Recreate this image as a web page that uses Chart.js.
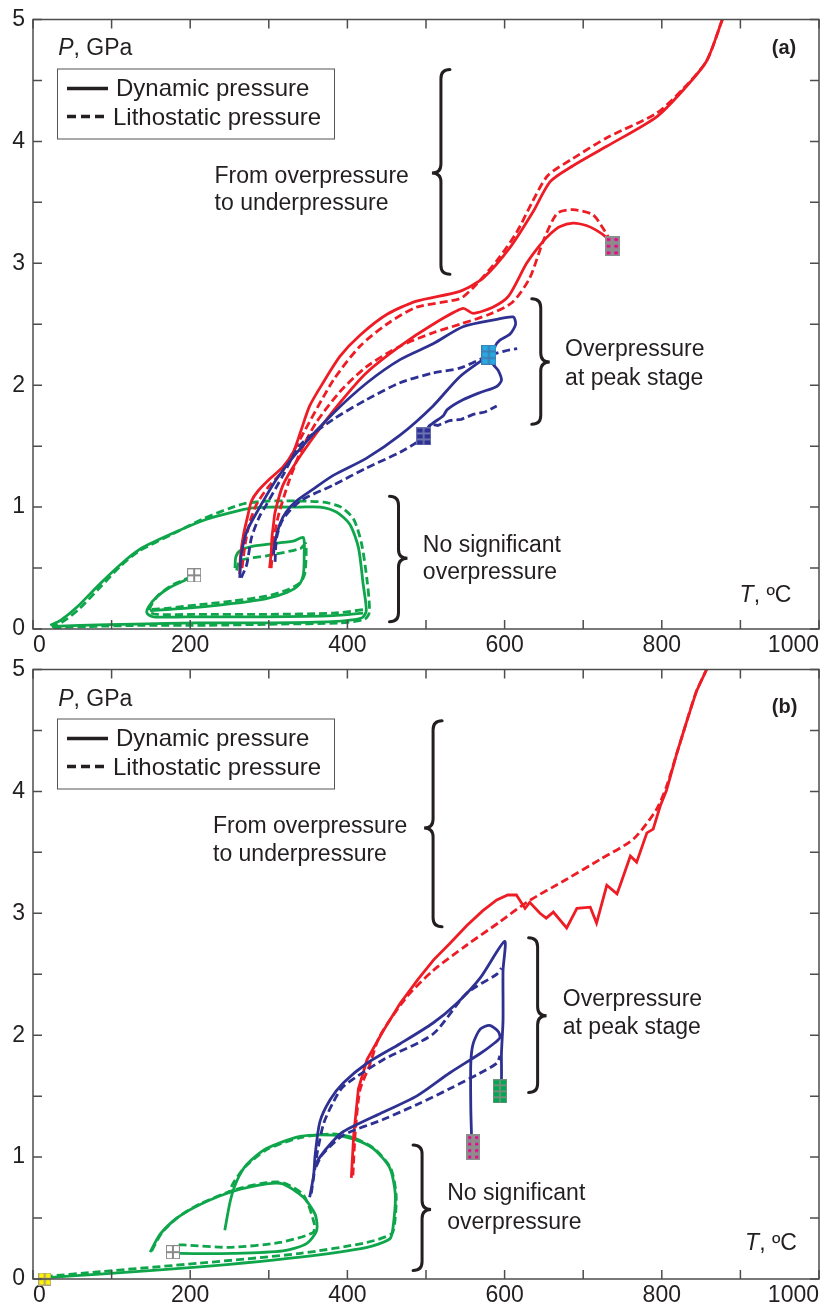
<!DOCTYPE html>
<html>
<head>
<meta charset="utf-8">
<script src="https://cdn.jsdelivr.net/npm/chart.js@4.4.1/dist/chart.umd.min.js"></script>
<style>
  body { margin: 0; background: #fff; width: 834px; height: 1306px; position: relative; overflow: hidden; }
  canvas { position: absolute; left: 0; }
  #chart-a { top: 0; }
  #chart-b { top: 650px; }
</style>
</head>
<body>
<canvas id="chart-a" width="834" height="656"></canvas>
<canvas id="chart-b" width="834" height="656"></canvas>
<script>
// Axis ticks
const xTickValues = [0, 200, 400, 600, 800, 1000];
const yTickValues = [0, 1, 2, 3, 4, 5];
const xTickMarks = [0, 100, 200, 300, 400, 500, 600, 700, 800, 900, 1000];
const yTickMarks = [0, 0.5, 1, 1.5, 2, 2.5, 3, 3.5, 4, 4.5, 5];

// ---- Panel (a) ----
const aGreenOuterSolidT = [24, 60, 130, 210, 300, 380, 418, 424, 420, 414, 403, 386, 365, 340, 300, 275, 255, 221, 183, 140, 115, 85, 56, 35, 22];
const aGreenOuterSolidP = [0.02, 0.03, 0.04, 0.05, 0.05, 0.06, 0.09, 0.15, 0.37, 0.67, 0.86, 0.96, 1.00, 1.00, 1.00, 0.99, 0.96, 0.90, 0.80, 0.67, 0.55, 0.37, 0.18, 0.07, 0.03];
const aGreenOuterDashT = [26, 70, 140, 220, 310, 390, 422, 428, 425, 418, 408, 392, 370, 340, 300, 270, 250, 215, 178, 135, 112, 85, 58, 38, 25];
const aGreenOuterDashP = [0.01, 0.02, 0.03, 0.03, 0.04, 0.05, 0.08, 0.14, 0.40, 0.70, 0.90, 1.00, 1.04, 1.05, 1.05, 1.03, 0.99, 0.90, 0.78, 0.64, 0.52, 0.34, 0.16, 0.06, 0.02];
const aGreenReturnSolidT = [200, 174, 157, 147, 145, 153, 212, 297, 382, 420];
const aGreenReturnSolidP = [0.42, 0.34, 0.26, 0.18, 0.13, 0.10, 0.10, 0.10, 0.11, 0.13];
const aGreenReturnDashT = [202, 177, 160, 150, 148, 158, 212, 297, 382, 422];
const aGreenReturnDashP = [0.43, 0.36, 0.28, 0.19, 0.14, 0.12, 0.12, 0.12, 0.13, 0.16];
const aGreenInnerSolidT = [257, 258, 263, 280, 331, 344, 345, 344, 338, 323, 297, 255, 212, 170, 149];
const aGreenInnerSolidP = [0.50, 0.59, 0.64, 0.68, 0.72, 0.75, 0.60, 0.45, 0.36, 0.30, 0.25, 0.21, 0.18, 0.16, 0.15];
const aGreenInnerDashT = [259, 263, 297, 340, 347, 346, 340, 323, 297, 255, 212, 170, 150];
const aGreenInnerDashP = [0.48, 0.56, 0.60, 0.66, 0.70, 0.46, 0.38, 0.32, 0.27, 0.23, 0.20, 0.17, 0.16];

const aBlueUpperSolidT = [263, 265, 272, 285, 310, 340, 382, 425, 467, 509, 547, 590, 611, 614, 607, 594, 588, 585, 592, 596, 590, 569, 547, 527, 522, 505, 499];
const aBlueUpperSolidP = [0.42, 0.61, 0.80, 0.96, 1.23, 1.48, 1.77, 2.02, 2.21, 2.34, 2.48, 2.54, 2.56, 2.50, 2.42, 2.37, 2.32, 2.18, 2.12, 2.04, 1.99, 1.94, 1.88, 1.80, 1.75, 1.67, 1.62];
const aBlueUpperDashT = [265, 272, 278, 288, 297, 318, 340, 382, 424, 467, 509, 543, 579, 600, 616];
const aBlueUpperDashP = [0.42, 0.53, 0.75, 0.92, 1.02, 1.26, 1.51, 1.72, 1.88, 2.02, 2.10, 2.14, 2.24, 2.28, 2.30];
const aBlueLowerSolidT = [306, 308, 314, 322, 335, 357, 382, 424, 467, 509, 543, 579];
const aBlueLowerSolidP = [0.61, 0.72, 0.86, 0.96, 1.05, 1.15, 1.26, 1.40, 1.59, 1.83, 2.07, 2.24];
const aBlueLowerDashT = [308, 310, 318, 340, 382, 424, 467, 496];
const aBlueLowerDashP = [0.55, 0.75, 0.90, 1.05, 1.18, 1.32, 1.45, 1.56];
const aBlueTailT = [499, 506, 515, 530, 545, 560, 575, 590];
const aBlueTailP = [1.62, 1.68, 1.67, 1.71, 1.72, 1.76, 1.78, 1.83];

const aRedUpperSolidT = [263, 264, 268, 274, 278, 286, 301, 318, 331, 340, 352, 369, 391, 416, 450, 488, 543, 573, 607, 636, 658, 687, 730, 793, 827, 857, 877];
const aRedUpperSolidP = [0.45, 0.60, 0.78, 0.95, 1.05, 1.13, 1.23, 1.33, 1.45, 1.61, 1.83, 2.02, 2.24, 2.41, 2.58, 2.69, 2.77, 2.88, 3.13, 3.42, 3.67, 3.80, 3.96, 4.20, 4.42, 4.66, 5.00];
const aRedUpperDashT = [266, 270, 276, 285, 300, 318, 340, 382, 416, 450, 488, 543, 560, 590, 615, 635, 655, 687, 730, 793, 827, 857, 877];
const aRedUpperDashP = [0.50, 0.70, 0.88, 1.03, 1.17, 1.30, 1.56, 2.04, 2.32, 2.50, 2.64, 2.71, 2.80, 3.02, 3.25, 3.50, 3.72, 3.86, 4.03, 4.23, 4.43, 4.66, 5.00];
const aRedLowerSolidT = [301, 303, 304, 306, 308, 318, 335, 361, 391, 424, 467, 509, 547, 560, 585, 605, 628, 645, 658, 670, 687, 704, 717, 730, 737];
const aRedLowerSolidP = [0.50, 0.62, 0.75, 0.86, 0.96, 1.18, 1.37, 1.61, 1.86, 2.10, 2.32, 2.50, 2.63, 2.59, 2.64, 2.73, 3.00, 3.15, 3.24, 3.30, 3.33, 3.31, 3.27, 3.21, 3.15];
const aRedLowerDashT = [303, 305, 308, 313, 325, 340, 361, 391, 424, 467, 509, 543, 580, 610, 632, 649, 667, 687, 712, 725, 735];
const aRedLowerDashP = [0.50, 0.65, 0.80, 0.95, 1.20, 1.45, 1.70, 1.95, 2.15, 2.32, 2.43, 2.50, 2.58, 2.68, 2.88, 3.18, 3.41, 3.44, 3.40, 3.29, 3.18];

const aMarkerT = [205, 497, 580, 737];
const aMarkerP = [0.44, 1.58, 2.25, 3.14];
const aMarkerKind = ["grey", "navy", "cyan", "magentaSmall"];

// ---- Panel (b) ----
const bGreenOuterSolidT = [15, 85, 212, 340, 425, 454, 458, 461, 454, 433, 407, 382, 340, 297, 272, 259, 251, 244];
const bGreenOuterSolidP = [0.01, 0.04, 0.10, 0.18, 0.26, 0.33, 0.42, 0.69, 0.91, 1.07, 1.15, 1.18, 1.17, 1.07, 0.94, 0.80, 0.64, 0.40];
const bGreenOuterDashT = [15, 85, 212, 340, 425, 456, 460, 462, 455, 434, 407, 382, 340, 297, 270, 256, 248];
const bGreenOuterDashP = [0.02, 0.06, 0.13, 0.21, 0.30, 0.37, 0.45, 0.69, 0.91, 1.07, 1.16, 1.19, 1.16, 1.06, 0.92, 0.80, 0.70];
const bGreenInnerSolidT = [149, 162, 183, 212, 255, 297, 318, 344, 359, 361, 348, 318, 255, 187, 178];
const bGreenInnerSolidP = [0.22, 0.37, 0.50, 0.61, 0.72, 0.78, 0.78, 0.67, 0.53, 0.40, 0.29, 0.23, 0.21, 0.21, 0.22];
const bGreenInnerDashT = [151, 164, 185, 214, 256, 297, 318, 344, 358, 356, 314, 251, 191, 180];
const bGreenInnerDashP = [0.23, 0.38, 0.51, 0.62, 0.73, 0.79, 0.79, 0.69, 0.45, 0.38, 0.30, 0.26, 0.28, 0.28];

const bBlueUpperSolidT = [352, 357, 359, 365, 378, 395, 425, 467, 509, 539, 569, 600, 598, 598, 596, 596, 594];
const bBlueUpperSolidP = [0.67, 0.85, 1.02, 1.29, 1.47, 1.61, 1.77, 1.93, 2.10, 2.26, 2.47, 2.77, 2.53, 2.12, 1.85, 1.64, 1.55];
const bBlueUpperDashT = [354, 358, 362, 370, 382, 395, 446, 509, 551, 590, 596];
const bBlueUpperDashP = [0.70, 0.88, 1.05, 1.28, 1.45, 1.58, 1.80, 2.01, 2.34, 2.50, 2.55];
const bBlueLowerSolidT = [358, 365, 380, 395, 446, 488, 530, 569, 586, 594, 592, 581, 569, 560, 557, 557, 558];
const bBlueLowerSolidP = [0.92, 1.00, 1.12, 1.21, 1.37, 1.50, 1.69, 1.85, 1.93, 1.98, 2.03, 2.08, 2.05, 1.93, 1.77, 1.40, 1.16];
const bBlueLowerDashT = [360, 368, 395, 446, 488, 530, 569, 590, 594];
const bBlueLowerDashP = [0.92, 1.02, 1.18, 1.31, 1.43, 1.56, 1.69, 1.77, 1.83];

const bRedSolidT = [405, 408, 414, 425, 446, 467, 490, 510, 530, 552, 572, 590, 604, 615, 626, 632, 645, 653, 662, 679, 692, 709, 717, 730, 743, 747, 760, 768, 781, 789, 798, 806, 819, 832, 844, 857];
const bRedSolidP = [0.83, 1.18, 1.56, 1.80, 2.04, 2.26, 2.46, 2.62, 2.75, 2.90, 3.02, 3.11, 3.15, 3.15, 3.04, 3.09, 3.00, 2.96, 3.01, 2.88, 3.04, 3.05, 2.92, 3.23, 3.16, 3.23, 3.47, 3.42, 3.66, 3.69, 3.88, 4.01, 4.31, 4.58, 4.82, 5.00];
const bRedDashT = [407, 410, 416, 428, 441, 475, 509, 552, 594, 628, 679, 721, 764, 793, 806, 819, 832, 844, 857];
const bRedDashP = [0.85, 1.20, 1.55, 1.75, 1.99, 2.31, 2.53, 2.74, 2.93, 3.09, 3.28, 3.44, 3.61, 3.85, 4.04, 4.31, 4.58, 4.82, 5.00];

const bMarkerT = [15, 178, 560, 594];
const bMarkerP = [0.00, 0.22, 1.08, 1.54];
const bMarkerKind = ["yellow", "grey", "magentaTall", "greenTall"];

const FONT = '"Liberation Sans", Arial, sans-serif';
const INK = "#231f20";
const RED = "#ee1c25";
const BLUE = "#2e3192";
const GREEN = "#0ea54b";

Chart.defaults.font.family = FONT;

/**
 * Small gridded square used for the start/end markers
 */
function makeMarker(w, h, cols, rows, cell, line, inset) {
  const c = document.createElement("canvas");
  c.width = w;
  c.height = h;
  const g = c.getContext("2d");
  g.fillStyle = line;
  g.fillRect(0, 0, w, h);
  g.fillStyle = cell;
  const cw = w / cols;
  const ch = h / rows;
  for (let i = 0; i < cols; i++) {
    for (let j = 0; j < rows; j++) {
      g.fillRect(i * cw + inset, j * ch + inset, cw - 2 * inset, ch - 2 * inset);
    }
  }
  return c;
}

const markerImages = {
  grey: makeMarker(14, 14, 2, 2, "#ffffff", "#8a8a8a", 1),
  navy: makeMarker(15, 18, 2, 3, "#2e3192", "#6d72b0", 1),
  cyan: makeMarker(15, 20, 2, 3, "#27aae1", "#3d7fb5", 1),
  magentaSmall: makeMarker(15, 20, 2, 3, "#ec008c", "#8d8d8d", 2),
  yellow: makeMarker(13, 13, 2, 2, "#fff200", "#a7a37e", 1),
  magentaTall: makeMarker(14, 26, 2, 4, "#ec008c", "#8d8d8d", 2),
  greenTall: makeMarker(14, 24, 2, 4, "#00a651", "#6f8f7a", 1),
};

function pts(T, P) {
  return T.map((t, i) => ({ x: t, y: P[i] }));
}

function path(T, P, color, dashed, order, tension) {
  return {
    data: pts(T, P),
    showLine: true,
    borderColor: color,
    borderWidth: 2.8,
    borderDash: dashed ? [8, 4] : [],
    pointRadius: 0,
    tension: tension === undefined ? 0.25 : tension,
    order: order,
  };
}

function markers(T, P, kinds) {
  return {
    data: pts(T, P),
    showLine: false,
    pointStyle: kinds.map((k) => markerImages[k]),
    pointRadius: 8,
    clip: false,
    order: 0,
  };
}

// Draw text pieces in a row, some of them italic
function drawRich(ctx, x, y, parts, size) {
  let cx = x;
  parts.forEach((p) => {
    ctx.font = (p.italic ? "italic " : "") + size + "px " + FONT;
    ctx.fillText(p.t, cx, y);
    cx += ctx.measureText(p.t).width;
  });
}

// Curly brace: stem at x from y0 to y1, tip at ym pointing dir (+1 right, -1 left)
function drawBrace(ctx, x, y0, y1, ym, dir) {
  const w = 9;
  ctx.beginPath();
  ctx.moveTo(x - dir * w, y0);
  ctx.quadraticCurveTo(x, y0, x, y0 + w);
  ctx.lineTo(x, ym - w);
  ctx.quadraticCurveTo(x, ym, x + dir * w, ym);
  ctx.quadraticCurveTo(x, ym, x, ym + w);
  ctx.lineTo(x, y1 - w);
  ctx.quadraticCurveTo(x, y1, x - dir * w, y1);
  ctx.stroke();
}

/**
 * Frame, inward ticks, legend box, braces and notes
 */
function decorPlugin(cfg) {
  return {
    id: "decor",
    afterDraw(chart) {
      const { ctx, chartArea: a } = chart;
      const sx = chart.scales.x;
      const sy = chart.scales.y;
      ctx.save();

      // Frame and inward tick marks
      ctx.strokeStyle = "#4d4d4d";
      ctx.lineWidth = 1.5;
      ctx.strokeRect(a.left, a.top, a.right - a.left, a.bottom - a.top);
      ctx.beginPath();
      xTickMarks.forEach((v) => {
        const px = sx.getPixelForValue(v);
        ctx.moveTo(px, a.bottom);
        ctx.lineTo(px, a.bottom - 9);
        ctx.moveTo(px, a.top);
        ctx.lineTo(px, a.top + 9);
      });
      yTickMarks.forEach((v) => {
        const py = sy.getPixelForValue(v);
        ctx.moveTo(a.left, py);
        ctx.lineTo(a.left + 9, py);
        ctx.moveTo(a.right, py);
        ctx.lineTo(a.right - 9, py);
      });
      ctx.stroke();

      // Legend box
      ctx.strokeStyle = "#555";
      ctx.lineWidth = 1;
      ctx.strokeRect(a.left + 24.5, a.top + 49.5, 277, 70);
      ctx.strokeStyle = INK;
      ctx.lineWidth = 3.5;
      ctx.beginPath();
      ctx.moveTo(a.left + 34, a.top + 69);
      ctx.lineTo(a.left + 75, a.top + 69);
      ctx.stroke();
      ctx.setLineDash([9, 5]);
      ctx.beginPath();
      ctx.moveTo(a.left + 34, a.top + 97);
      ctx.lineTo(a.left + 74, a.top + 97);
      ctx.stroke();
      ctx.setLineDash([]);
      ctx.fillStyle = INK;
      ctx.textAlign = "left";
      ctx.textBaseline = "alphabetic";
      ctx.font = "24px " + FONT;
      ctx.fillText("Dynamic pressure", a.left + 83, a.top + 76);
      ctx.fillText("Lithostatic pressure", a.left + 80, a.top + 105);

      // Axis names
      drawRich(ctx, sx.getPixelForValue(cfg.pLabel[0]), sy.getPixelForValue(cfg.pLabel[1]),
        [{ t: "P", italic: true }, { t: ", GPa" }], 23);
      drawRich(ctx, sx.getPixelForValue(cfg.tLabel[0]), sy.getPixelForValue(cfg.tLabel[1]),
        [{ t: "T", italic: true }, { t: ", ºC" }], 23);

      // Panel tag
      ctx.font = "bold 20px " + FONT;
      ctx.fillText(cfg.tag, sx.getPixelForValue(cfg.tagPos[0]), sy.getPixelForValue(cfg.tagPos[1]));

      // Notes
      ctx.font = "23px " + FONT;
      cfg.notes.forEach((n) => {
        ctx.fillText(n.s, sx.getPixelForValue(n.T), sy.getPixelForValue(n.P));
      });

      // Braces
      ctx.strokeStyle = INK;
      ctx.lineWidth = 3;
      ctx.lineCap = "round";
      cfg.braces.forEach((b) => {
        drawBrace(ctx, sx.getPixelForValue(b.T), sy.getPixelForValue(b.p0),
          sy.getPixelForValue(b.p1), sy.getPixelForValue(b.pm), b.dir);
      });
      ctx.restore();
    },
  };
}

function makeChart(id, datasets, topPad, cfg) {
  return new Chart(document.getElementById(id), {
    type: "scatter",
    data: { datasets: datasets },
    options: {
      responsive: false,
      animation: false,
      events: [],
      layout: { padding: { left: 0, top: topPad, right: 15, bottom: 0 } },
      plugins: { legend: { display: false }, tooltip: { enabled: false } },
      scales: {
        x: {
          type: "linear",
          min: 0,
          max: 1000,
          grid: { display: false, drawTicks: false },
          border: { display: false },
          ticks: {
            align: "inner",
            padding: 5,
            color: INK,
            font: { size: 23, lineHeight: 1 },
            callback: (v) => String(v),
          },
          afterBuildTicks: (s) => { s.ticks = xTickValues.map((v) => ({ value: v })); },
          afterFit: (s) => { s.height = 27; },
        },
        y: {
          type: "linear",
          min: 0,
          max: 5,
          grid: { display: false, drawTicks: false },
          border: { display: false },
          ticks: {
            padding: 8,
            color: INK,
            font: { size: 23, lineHeight: 1 },
            callback: (v) => String(v),
          },
          afterBuildTicks: (s) => { s.ticks = yTickValues.map((v) => ({ value: v })); },
          afterFit: (s) => { s.width = 33; },
        },
      },
    },
    plugins: [decorPlugin(cfg)],
  });
}

makeChart("chart-a", [
  markers(aMarkerT, aMarkerP, aMarkerKind),
  path(aBlueUpperSolidT, aBlueUpperSolidP, BLUE, false, 1),
  path(aBlueUpperDashT, aBlueUpperDashP, BLUE, true, 1),
  path(aBlueLowerSolidT, aBlueLowerSolidP, BLUE, false, 1),
  path(aBlueLowerDashT, aBlueLowerDashP, BLUE, true, 1),
  path(aBlueTailT, aBlueTailP, BLUE, true, 1, 0),
  path(aRedUpperSolidT, aRedUpperSolidP, RED, false, 2),
  path(aRedUpperDashT, aRedUpperDashP, RED, true, 2),
  path(aRedLowerSolidT, aRedLowerSolidP, RED, false, 2),
  path(aRedLowerDashT, aRedLowerDashP, RED, true, 2),
  path(aGreenOuterSolidT, aGreenOuterSolidP, GREEN, false, 3),
  path(aGreenOuterDashT, aGreenOuterDashP, GREEN, true, 3),
  path(aGreenReturnSolidT, aGreenReturnSolidP, GREEN, false, 3),
  path(aGreenReturnDashT, aGreenReturnDashP, GREEN, true, 3),
  path(aGreenInnerSolidT, aGreenInnerSolidP, GREEN, false, 3),
  path(aGreenInnerDashT, aGreenInnerDashP, GREEN, true, 3),
], 12, {
  tag: "(a)",
  tagPos: [940, 4.72],
  pLabel: [32, 4.71],
  tLabel: [899, 0.22],
  notes: [
    { s: "From overpressure", T: 231, P: 3.66 },
    { s: "to underpressure", T: 231, P: 3.44 },
    { s: "Overpressure", T: 677, P: 2.24 },
    { s: "at peak stage", T: 677, P: 2.00 },
    { s: "No significant", T: 496, P: 0.63 },
    { s: "overpressure", T: 496, P: 0.41 },
  ],
  braces: [
    { T: 519, p0: 4.59, p1: 2.91, pm: 3.74, dir: -1 },
    { T: 646, p0: 2.71, p1: 1.68, pm: 2.19, dir: 1 },
    { T: 465, p0: 1.09, p1: 0.06, pm: 0.58, dir: 1 },
  ],
});

makeChart("chart-b", [
  markers(bMarkerT, bMarkerP, bMarkerKind),
  path(bBlueUpperSolidT, bBlueUpperSolidP, BLUE, false, 1),
  path(bBlueUpperDashT, bBlueUpperDashP, BLUE, true, 1),
  path(bBlueLowerSolidT, bBlueLowerSolidP, BLUE, false, 1),
  path(bBlueLowerDashT, bBlueLowerDashP, BLUE, true, 1),
  path(bRedSolidT, bRedSolidP, RED, false, 2, 0),
  path(bRedDashT, bRedDashP, RED, true, 2),
  path(bGreenOuterSolidT, bGreenOuterSolidP, GREEN, false, 3),
  path(bGreenOuterDashT, bGreenOuterDashP, GREEN, true, 3),
  path(bGreenInnerSolidT, bGreenInnerSolidP, GREEN, false, 3),
  path(bGreenInnerDashT, bGreenInnerDashP, GREEN, true, 3),
], 11, {
  tag: "(b)",
  tagPos: [940, 4.64],
  pLabel: [32, 4.70],
  tLabel: [906, 0.24],
  notes: [
    { s: "From overpressure", T: 229, P: 3.66 },
    { s: "to underpressure", T: 229, P: 3.43 },
    { s: "Overpressure", T: 674, P: 2.24 },
    { s: "at peak stage", T: 674, P: 2.01 },
    { s: "No significant", T: 527, P: 0.65 },
    { s: "overpressure", T: 527, P: 0.41 },
  ],
  braces: [
    { T: 509, p0: 4.58, p1: 2.89, pm: 3.70, dir: -1 },
    { T: 642, p0: 2.80, p1: 1.53, pm: 2.16, dir: 1 },
    { T: 495, p0: 1.10, p1: 0.07, pm: 0.57, dir: 1 },
  ],
});
</script>
</body>
</html>
